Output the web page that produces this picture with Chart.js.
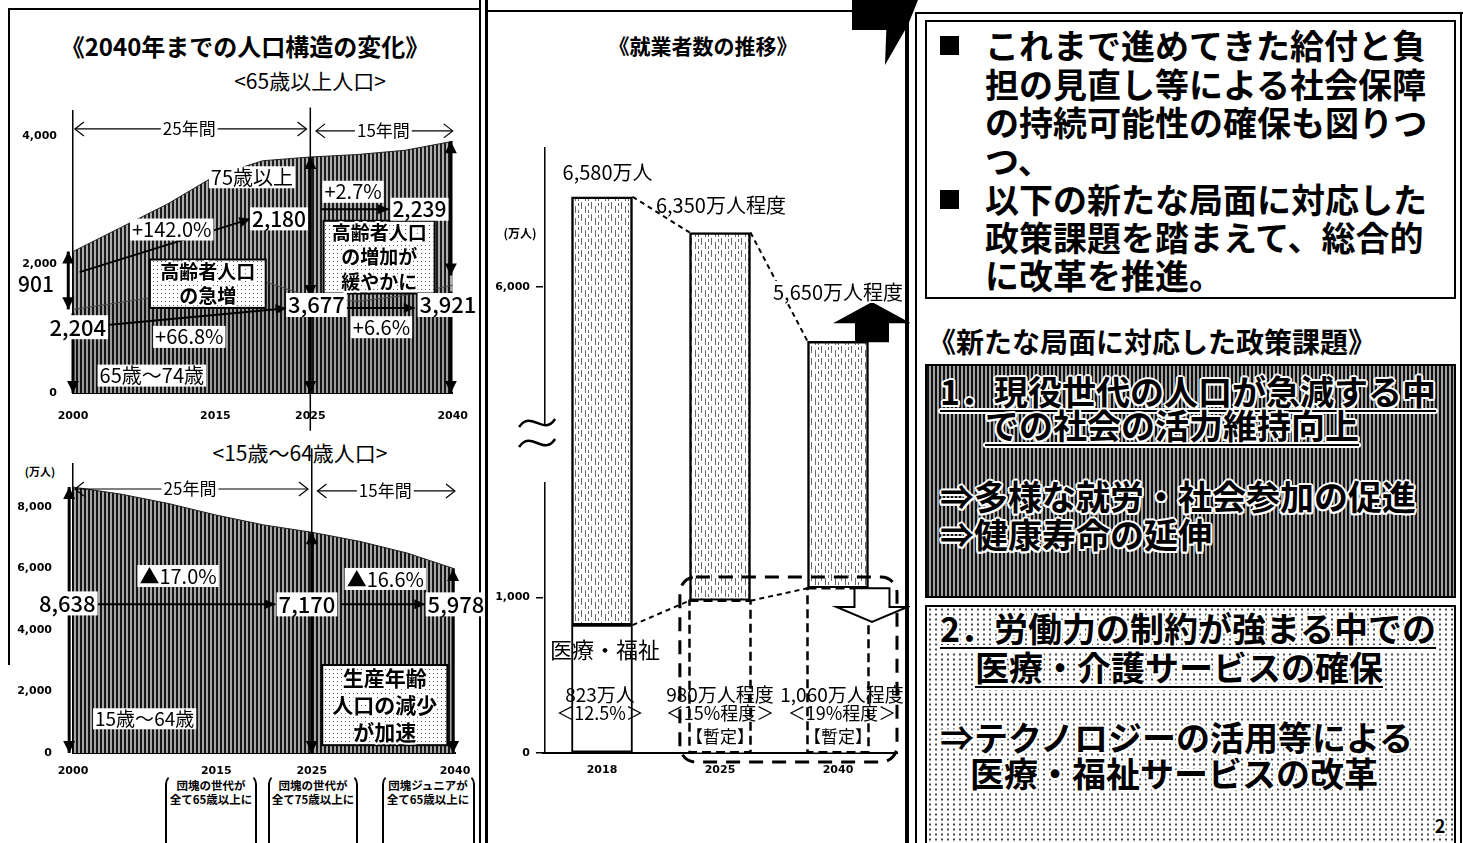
<!DOCTYPE html>
<html lang="ja">
<head>
<meta charset="UTF-8">
<title>2040年までの人口構造の変化・就業者数の推移</title>
<script src="https://cdn.jsdelivr.net/npm/chart.js@4.4.0/dist/chart.umd.min.js"></script>
<style>
    body { margin: 0; background: #fff; }
    #stage {
        position: relative; width: 1463px; height: 843px; overflow: hidden;
        font-family: "Noto Sans CJK JP", sans-serif; color: #000; background: #fff;
    }
    #stage canvas { position: absolute; }
    .ln { position: absolute; background: #000; }
    .c { position: absolute; transform: translate(-50%, -50%); white-space: nowrap; }
    .l { position: absolute; transform: translateY(-50%); white-space: nowrap; }
    .box { position: absolute; border: 2px solid #000; }
    .brk {
        position: absolute; border: 2px solid #000; border-top-color: transparent;
        border-bottom: none; border-radius: 10px 10px 0 0;
    }
    .note { font-size: 11.5px; font-weight: 700; line-height: 1; }
    .big { font-size: 34px; font-weight: 700; line-height: 1; }
    .halo {
        text-shadow: 2px 0 #fff, -2px 0 #fff, 0 2px #fff, 0 -2px #fff,
                     1.5px 1.5px #fff, -1.5px -1.5px #fff, 1.5px -1.5px #fff, -1.5px 1.5px #fff;
    }
    .ul { text-decoration: underline; text-decoration-thickness: 2px; text-underline-offset: 5px; }
    .dark { background: repeating-linear-gradient(90deg, #111 0 2px, #a0a0a0 2px 4px); }
    .light {
        background: radial-gradient(circle, #444 0.9px, transparent 1.3px) 0 0 / 6px 5px, #fff;
    }
</style>
</head>
<body>
<div id="stage">
    <!-- 枠線 -->
    <div class="ln" style="left:8px;top:8px;width:473px;height:2px"></div>
    <div class="ln" style="left:8px;top:8px;width:2px;height:657px"></div>
    <div class="ln" style="left:479px;top:0;width:2px;height:843px"></div>
    <div class="ln" style="left:485px;top:0;width:3px;height:843px"></div>
    <div class="ln" style="left:487px;top:10px;width:368px;height:2px"></div>
    <div class="ln" style="left:852px;top:0;width:66px;height:65px;clip-path:polygon(0 0,100% 0,85% 38%,50% 100%,52% 46%,0 46%)"></div>
    <div class="ln" style="left:905px;top:22px;width:4px;height:821px"></div>
    <div class="ln" style="left:915px;top:12px;width:2px;height:831px"></div>
    <div class="ln" style="left:915px;top:12px;width:548px;height:2px"></div>
    <div class="ln" style="left:1460px;top:12px;width:2px;height:831px"></div>

    <!-- 左パネルの見出し -->
    <div class="c" style="left:245px;top:45px;font-size:24px;font-weight:700">《2040年までの人口構造の変化》</div>
    <div class="c" style="left:310px;top:80px;font-size:21px">&lt;65歳以上人口&gt;</div>
    <div class="c" style="left:300px;top:452px;font-size:21px">&lt;15歳～64歳人口&gt;</div>
    <div class="c" style="left:40px;top:471px;font-size:11px;font-weight:700">(万人)</div>

    <!-- 団塊の世代の注記 -->
    <div class="brk" style="left:165px;top:774px;width:88px;height:80px"></div>
    <div class="brk" style="left:268px;top:774px;width:86px;height:80px"></div>
    <div class="brk" style="left:382px;top:774px;width:89px;height:80px"></div>
    <div class="c note" style="left:211px;top:786px">団塊の世代が</div>
    <div class="c note" style="left:211px;top:800px">全て65歳以上に</div>
    <div class="c note" style="left:313px;top:786px">団塊の世代が</div>
    <div class="c note" style="left:313px;top:800px">全て75歳以上に</div>
    <div class="c note" style="left:428px;top:786px">団塊ジュニアが</div>
    <div class="c note" style="left:428px;top:800px">全て65歳以上に</div>

    <!-- 中央パネルの見出し -->
    <div class="c" style="left:703px;top:45px;font-size:21px;font-weight:700">《就業者数の推移》</div>

    <canvas id="oldChart" width="485" height="345" style="left:0;top:88px"></canvas>
    <canvas id="workAgeChart" width="485" height="349" style="left:0;top:436px"></canvas>
    <canvas id="workerChart" width="420" height="660" style="left:490px;top:130px"></canvas>

    <!-- 右パネル -->
    <div class="box" style="left:925px;top:20px;width:527px;height:275px"></div>
    <div class="ln" style="left:940px;top:36px;width:19px;height:19px"></div>
    <div class="ln" style="left:940px;top:190px;width:19px;height:19px"></div>
    <div class="l big" style="left:985px;top:45px">これまで進めてきた給付と負</div>
    <div class="l big" style="left:985px;top:84px">担の見直し等による社会保障</div>
    <div class="l big" style="left:985px;top:122px">の持続可能性の確保も図りつ</div>
    <div class="l big" style="left:985px;top:160px">つ、</div>
    <div class="l big" style="left:985px;top:199px">以下の新たな局面に対応した</div>
    <div class="l big" style="left:985px;top:237px">政策課題を踏まえて、総合的</div>
    <div class="l big" style="left:985px;top:275px">に改革を推進。</div>

    <div class="l" style="left:928px;top:341px;font-size:28px;font-weight:600">《新たな局面に対応した政策課題》</div>

    <div class="box dark" style="left:925px;top:364px;width:527px;height:230px"></div>
    <div class="l big halo ul" style="left:940px;top:391px">1．現役世代の人口が急減する中</div>
    <div class="l big halo ul" style="left:985px;top:425px">での社会の活力維持向上</div>
    <div class="l big halo" style="left:940px;top:496px">⇒多様な就労・社会参加の促進</div>
    <div class="l big halo" style="left:940px;top:534px">⇒健康寿命の延伸</div>

    <div class="box light" style="left:925px;top:605px;width:527px;height:250px"></div>
    <div class="l big halo ul" style="left:940px;top:628px">2．労働力の制約が強まる中での</div>
    <div class="l big halo ul" style="left:975px;top:667px">医療・介護サービスの確保</div>
    <div class="l big halo" style="left:940px;top:737px">⇒テクノロジーの活用等による</div>
    <div class="l big halo" style="left:970px;top:773px">医療・福祉サービスの改革</div>
    <div class="c halo" style="left:1440px;top:825px;font-size:18px;font-weight:700">2</div>
</div>

<script>
    // 65歳以上人口（万人）
    const popYears = [2000, 2005, 2010, 2015, 2020, 2025, 2030, 2035, 2040];
    const pop65to74 = [1303, 1412, 1529, 1755, 1747, 1497, 1428, 1522, 1682];
    const pop75plus = [901, 1164, 1419, 1632, 1872, 2180, 2288, 2260, 2239];
    // 15歳～64歳人口（万人）
    const pop15to64 = [8638, 8409, 8103, 7728, 7406, 7170, 6875, 6494, 5978];
    const popYearTicks = [2000, 2015, 2025, 2040];
    const oldTicks = [0, 2000, 4000];
    const workAgeTicks = [0, 2000, 4000, 6000, 8000];

    // 就業者数（万人）
    const workYears = ['2018', '2025', '2040'];
    const workTotal = [6580, 6350, 5650];
    const workCare = [823, 980, 1060];
    const workTickValues = [0, 1000, 6000];
    const AXIS_CUT = 3000; // 縦軸の省略部分（2,000～5,000付近）

    const JP = '"Noto Sans CJK JP", sans-serif';
    const NUM = { family: 'DejaVu Sans', weight: 'bold', size: 11 };
    Chart.defaults.font.family = JP;
    Chart.defaults.color = '#000';

    const fmt = v => v.toLocaleString('en-US');
    const pct = (a, b) => Math.abs((b / a - 1) * 100).toFixed(1) + '%';
    const oldTotal = pop65to74.map((v, i) => v + pop75plus[i]);
    const i00 = popYears.indexOf(2000), i25 = popYears.indexOf(2025), i40 = popYears.indexOf(2040);

    function stripes(bg, fg, step, lw) {
        const c = document.createElement('canvas');
        c.width = step; c.height = 8;
        const g = c.getContext('2d');
        g.fillStyle = bg; g.fillRect(0, 0, step, 8);
        g.fillStyle = fg; g.fillRect(0, 0, lw, 8);
        return g.createPattern(c, 'repeat');
    }
    function dots() {
        const c = document.createElement('canvas');
        c.width = 4; c.height = 4;
        const g = c.getContext('2d');
        g.fillStyle = '#fff'; g.fillRect(0, 0, 4, 4);
        g.fillStyle = '#555'; g.fillRect(1, 1, 1, 1);
        return g.createPattern(c, 'repeat');
    }
    function speckle() {
        const c = document.createElement('canvas');
        c.width = 10; c.height = 12;
        const g = c.getContext('2d');
        g.fillStyle = '#fff'; g.fillRect(0, 0, 10, 12);
        g.fillStyle = '#6a6a6a';
        g.fillRect(1, 0, 1, 7); g.fillRect(5, 4, 1, 7); g.fillRect(8, 1, 1, 3); g.fillRect(8, 8, 1, 3);
        return g.createPattern(c, 'repeat');
    }
    const dotFill = dots();

    function arrowHead(ctx, x, y, ang, len, wid, open) {
        ctx.beginPath();
        ctx.moveTo(x - len * Math.cos(ang) + wid * Math.sin(ang), y - len * Math.sin(ang) - wid * Math.cos(ang));
        ctx.lineTo(x, y);
        ctx.lineTo(x - len * Math.cos(ang) - wid * Math.sin(ang), y - len * Math.sin(ang) + wid * Math.cos(ang));
        if (open) ctx.stroke(); else { ctx.closePath(); ctx.fill(); }
    }
    function drawArrow(ctx, x1, y1, x2, y2, a) {
        ctx.lineWidth = a.w || 1.5;
        ctx.strokeStyle = '#000'; ctx.fillStyle = '#000';
        ctx.beginPath(); ctx.moveTo(x1, y1); ctx.lineTo(x2, y2); ctx.stroke();
        const ang = Math.atan2(y2 - y1, x2 - x1);
        const len = a.len || 10, wid = a.wid || 5;
        if (a.head === 'end' || a.head === 'both') arrowHead(ctx, x2, y2, ang, len, wid, a.open);
        if (a.head === 'start' || a.head === 'both') arrowHead(ctx, x1, y1, ang + Math.PI, len, wid, a.open);
    }
    function blockArrow(ctx, x, yBase, yTip, shaftW, headW, headL, fill) {
        const dir = Math.sign(yTip - yBase), yNeck = yTip - dir * headL;
        ctx.beginPath();
        ctx.moveTo(x - shaftW / 2, yBase); ctx.lineTo(x - shaftW / 2, yNeck); ctx.lineTo(x - headW / 2, yNeck);
        ctx.lineTo(x, yTip);
        ctx.lineTo(x + headW / 2, yNeck); ctx.lineTo(x + shaftW / 2, yNeck); ctx.lineTo(x + shaftW / 2, yBase);
        ctx.closePath();
        ctx.fillStyle = fill; ctx.fill();
        ctx.lineWidth = 2; ctx.strokeStyle = '#000'; ctx.stroke();
    }
    function haloText(ctx, t, x, y) {
        ctx.lineWidth = 4; ctx.strokeStyle = '#fff'; ctx.lineJoin = 'round';
        ctx.strokeText(t, x, y);
        ctx.fillStyle = '#000'; ctx.fillText(t, x, y);
    }

    // 注記（矢印・ラベル・囲み）をデータ座標で描く
    const notesPlugin = {
        id: 'notes',
        afterDraw(chart, args, o) {
            const ctx = chart.ctx, sx = chart.scales.x, sy = chart.scales.y;
            const X = v => sx.getPixelForValue(v), Y = v => sy.getPixelForValue(v);
            ctx.save();
            (o.lines || []).forEach(l => {
                ctx.lineWidth = l.w || 1.5; ctx.strokeStyle = '#000';
                ctx.beginPath(); ctx.moveTo(X(l.x1), Y(l.y1)); ctx.lineTo(X(l.x2), Y(l.y2)); ctx.stroke();
            });
            (o.rrects || []).forEach(r => {
                ctx.lineWidth = 3; ctx.strokeStyle = '#000'; ctx.setLineDash([14, 9]);
                ctx.beginPath();
                ctx.roundRect(X(r.x1), Y(r.y1), X(r.x2) - X(r.x1), Y(r.y2) - Y(r.y1), 16);
                ctx.stroke();
                ctx.setLineDash([]);
            });
            (o.blocks || []).forEach(b => blockArrow(ctx, X(b.x), Y(b.y1), Y(b.y2), b.shaft, b.head, b.len, b.fill));
            (o.tildes || []).forEach(t => {
                const x = X(t.x), y = Y(t.y);
                ctx.lineWidth = 2.5; ctx.strokeStyle = '#000';
                ctx.beginPath(); ctx.moveTo(x - 18, y + 4);
                ctx.bezierCurveTo(x - 6, y - 14, x + 6, y + 14, x + 18, y - 4);
                ctx.stroke();
            });
            (o.arrows || []).forEach(a => drawArrow(ctx, X(a.x1), Y(a.y1), X(a.x2), Y(a.y2), a));
            (o.boxes || []).forEach(b => {
                const x1 = X(b.x1), y1 = Y(b.y1), x2 = X(b.x2), y2 = Y(b.y2);
                ctx.fillStyle = dotFill; ctx.fillRect(x1, y1, x2 - x1, y2 - y1);
                ctx.lineWidth = 2; ctx.strokeStyle = '#000'; ctx.strokeRect(x1, y1, x2 - x1, y2 - y1);
                ctx.font = `bold ${b.size}px ${JP}`;
                ctx.textAlign = 'center'; ctx.textBaseline = 'middle';
                const lh = (y2 - y1) / b.lines.length;
                b.lines.forEach((t, i) => haloText(ctx, t, (x1 + x2) / 2, y1 + lh * (i + 0.5)));
            });
            (o.texts || []).forEach(t => {
                ctx.font = `${t.weight || 400} ${t.size}px ${JP}`;
                ctx.textAlign = 'center'; ctx.textBaseline = 'middle';
                const x = X(t.x), y = Y(t.y);
                if (t.bg) {
                    const w = ctx.measureText(t.t).width;
                    ctx.fillStyle = t.bg;
                    ctx.fillRect(x - w / 2 - 2, y - t.size / 2 - 1, w + 4, t.size + 2);
                }
                ctx.fillStyle = '#000';
                ctx.fillText(t.t, x, y);
            });
            ctx.restore();
        }
    };
    Chart.register(notesPlugin);

    function yearAxis(height, pad) {
        return {
            type: 'linear', min: 2000, max: 2040,
            afterBuildTicks: s => { s.ticks = popYearTicks.map(v => ({ value: v })); },
            afterFit: s => { s.height = height; },
            ticks: { callback: v => String(v), padding: pad, font: NUM, maxRotation: 0, autoSkip: false },
            grid: { display: false, drawTicks: false },
            border: { display: true, color: '#000', width: 2 }
        };
    }
    function valueAxis(max, ticks, pad) {
        return {
            stacked: true, min: 0, max: max,
            afterBuildTicks: s => { s.ticks = ticks.map(v => ({ value: v })); },
            afterFit: s => { s.width = 73; },
            ticks: { callback: v => fmt(v), padding: pad, font: NUM },
            grid: { display: false, drawTicks: false },
            border: { display: true, color: '#000', width: 1.5 }
        };
    }
    const pts = arr => arr.map((v, i) => ({ x: popYears[i], y: v }));
    const span = { head: 'both', open: true, w: 1.2, len: 9, wid: 7 };
    const bold = { head: 'both', w: 3, len: 12, wid: 6 };

    // <65歳以上人口>
    new Chart(document.getElementById('oldChart'), {
        type: 'line',
        data: {
            datasets: [
                { label: '65歳～74歳', data: pts(pop65to74), fill: 'origin', backgroundColor: stripes('#9c9c9c', '#141414', 4, 2),
                  borderColor: '#444', borderWidth: 1, pointRadius: 0, tension: 0 },
                { label: '75歳以上', data: pts(pop75plus), fill: '-1', backgroundColor: stripes('#acacac', '#1c1c1c', 4, 2),
                  borderColor: '#222', borderWidth: 1, pointRadius: 0, tension: 0 }
            ]
        },
        options: {
            responsive: false, animation: false,
            layout: { padding: { top: 13, right: 30, left: 0, bottom: 0 } },
            plugins: {
                legend: { display: false }, tooltip: { enabled: false },
                notes: {
                    lines: [{ x1: 2025, y1: 4450, x2: 2025, y2: -590, w: 1.5 }],
                    arrows: [
                        { x1: 2000.2, y1: 4114, x2: 2024.6, y2: 4114, ...span },
                        { x1: 2025.6, y1: 4084, x2: 2040, y2: 4084, ...span },
                        { x1: 2000.7, y1: 1884, x2: 2018.7, y2: 2713, head: 'end', w: 2, len: 11, wid: 5 },
                        { x1: 2003.3, y1: 1055, x2: 2022.5, y2: 1320, head: 'end', w: 2, len: 11, wid: 5 },
                        { x1: 2026.1, y1: 2863, x2: 2033.3, y2: 2863, head: 'end', w: 2, len: 11, wid: 5 },
                        { x1: 2028.8, y1: 1326, x2: 2036.0, y2: 1326, head: 'end', w: 2, len: 11, wid: 5 },
                        { x1: 1999.5, y1: pop65to74[i00], x2: 1999.5, y2: oldTotal[i00], ...bold },
                        { x1: 2000, y1: pop65to74[i00] - 60, x2: 2000, y2: 0, ...bold, head: 'end' },
                        { x1: 2025, y1: pop65to74[i25], x2: 2025, y2: oldTotal[i25], ...bold },
                        { x1: 2025, y1: pop65to74[i25] - 300, x2: 2025, y2: 0, ...bold, head: 'end' },
                        { x1: 2039.8, y1: pop65to74[i40] + 150, x2: 2039.8, y2: oldTotal[i40], ...bold },
                        { x1: 2039.8, y1: pop65to74[i40] - 100, x2: 2039.8, y2: 0, ...bold, head: 'end' }
                    ],
                    boxes: [
                        { x1: 2008.1, y1: 2080, x2: 2020.3, y2: 1326, lines: ['高齢者人口', 'の急増'], size: 19 },
                        { x1: 2026.4, y1: 2682, x2: 2038.1, y2: 1552, lines: ['高齢者人口', 'の増加が', '緩やかに'], size: 19 }
                    ],
                    texts: [
                        { x: 2012.25, y: 4114, t: '25年間', size: 17, bg: '#fff' },
                        { x: 2032.7, y: 4084, t: '15年間', size: 17, bg: '#fff' },
                        { x: 2018.85, y: 3361, t: '75歳以上', size: 20, bg: '#fff' },
                        { x: 2010.4, y: 2547, t: '+' + pct(pop75plus[i00], pop75plus[i25]), size: 20, bg: '#fff' },
                        { x: 2021.7, y: 2713, t: fmt(pop75plus[i25]), size: 21, weight: 500, bg: '#fff' },
                        { x: 1996.1, y: 1703, t: fmt(pop75plus[i00]), size: 21, weight: 500, bg: '#fff' },
                        { x: 2000.5, y: 1025, t: fmt(oldTotal[i00]), size: 22, weight: 500, bg: '#fff' },
                        { x: 2025.65, y: 1371, t: fmt(oldTotal[i25]), size: 22, weight: 500, bg: '#fff' },
                        { x: 2012.25, y: 874, t: '+' + pct(oldTotal[i00], oldTotal[i25]), size: 20, bg: '#fff' },
                        { x: 2008.3, y: 271, t: '65歳～74歳', size: 20, bg: '#fff' },
                        { x: 2029.5, y: 3135, t: '+' + pct(pop75plus[i25], pop75plus[i40]), size: 20, bg: '#fff' },
                        { x: 2036.5, y: 2863, t: fmt(pop75plus[i40]), size: 21, weight: 500, bg: '#fff' },
                        { x: 2039.5, y: 1371, t: fmt(oldTotal[i40]), size: 22, weight: 500, bg: '#fff' },
                        { x: 2032.5, y: 1025, t: '+' + pct(oldTotal[i25], oldTotal[i40]), size: 20, bg: '#fff' }
                    ]
                }
            },
            scales: { x: yearAxis(40, 17), y: valueAxis(4400, oldTicks, 16) }
        }
    });

    // <15歳～64歳人口>
    new Chart(document.getElementById('workAgeChart'), {
        type: 'line',
        data: {
            datasets: [
                { label: '15歳～64歳', data: pts(pop15to64), fill: 'origin', backgroundColor: stripes('#a6a6a6', '#161616', 4, 2),
                  borderColor: '#222', borderWidth: 1, pointRadius: 0, tension: 0 }
            ]
        },
        options: {
            responsive: false, animation: false,
            layout: { padding: { top: 21, right: 30, left: 0, bottom: 0 } },
            plugins: {
                legend: { display: false }, tooltip: { enabled: false },
                notes: {
                    lines: [{ x1: 2025, y1: 9900, x2: 2025, y2: 0, w: 1.5 }],
                    arrows: [
                        { x1: 2000.2, y1: 8575, x2: 2024.6, y2: 8575, ...span },
                        { x1: 2025.6, y1: 8512, x2: 2040, y2: 8512, ...span },
                        { x1: 1999.6, y1: 0, x2: 1999.6, y2: pop15to64[i00], ...bold },
                        { x1: 2025, y1: 0, x2: 2025, y2: pop15to64[i25], ...bold },
                        { x1: 2039.8, y1: 0, x2: 2039.8, y2: pop15to64[i40], ...bold },
                        { x1: 2002.5, y1: 4828, x2: 2021.2, y2: 4828, head: 'end', w: 2, len: 11, wid: 5 },
                        { x1: 2028.0, y1: 4828, x2: 2036.9, y2: 4828, head: 'end', w: 2, len: 11, wid: 5 }
                    ],
                    boxes: [
                        { x1: 2026.1, y1: 2858, x2: 2039.2, y2: 254, lines: ['生産年齢', '人口の減少', 'が加速'], size: 21 }
                    ],
                    texts: [
                        { x: 2012.25, y: 8575, t: '25年間', size: 17, bg: '#fff' },
                        { x: 2032.7, y: 8512, t: '15年間', size: 17, bg: '#fff' },
                        { x: 2011, y: 5749, t: '▲' + pct(pop15to64[i00], pop15to64[i25]), size: 20, bg: '#fff' },
                        { x: 2032.7, y: 5653, t: '▲' + pct(pop15to64[i25], pop15to64[i40]), size: 20, bg: '#fff' },
                        { x: 1999.4, y: 4859, t: fmt(pop15to64[i00]), size: 22, weight: 500, bg: '#fff' },
                        { x: 2024.5, y: 4828, t: fmt(pop15to64[i25]), size: 22, weight: 500, bg: '#fff' },
                        { x: 2040.1, y: 4828, t: fmt(pop15to64[i40]), size: 22, weight: 500, bg: '#fff' },
                        { x: 2007.5, y: 1112, t: '15歳～64歳', size: 19, bg: '#fff' }
                    ]
                }
            },
            scales: { x: yearAxis(32, 12), y: valueAxis(9400, workAgeTicks, 21) }
        }
    });

    // 就業者数の推移：棒の上端をつなぐ破線・暫定値の破線枠
    const workerExtras = {
        id: 'workerExtras',
        afterDatasetsDraw(chart) {
            const ctx = chart.ctx;
            const care = chart.getDatasetMeta(0).data, top = chart.getDatasetMeta(1).data;
            ctx.save();
            ctx.strokeStyle = '#000';
            ctx.lineWidth = 2.5; ctx.setLineDash([9, 5]);
            care.forEach((el, i) => {
                if (i > 0) ctx.strokeRect(el.x - el.width / 2, el.y, el.width, el.base - el.y);
            });
            ctx.lineWidth = 2; ctx.setLineDash([5, 4]);
            [top, care].forEach(els => {
                for (let i = 0; i < els.length - 1; i++) {
                    const a = els[i], b = els[i + 1];
                    ctx.beginPath();
                    ctx.moveTo(a.x + a.width / 2, a.y);
                    ctx.lineTo(b.x - b.width / 2, b.y);
                    ctx.stroke();
                }
            });
            ctx.restore();
        }
    };
    const axisPos = v => (v > 2000 ? v - AXIS_CUT : v);
    const i40w = workYears.indexOf('2040');

    new Chart(document.getElementById('workerChart'), {
        type: 'bar',
        data: {
            labels: workYears,
            datasets: [
                { label: '医療・福祉', data: workCare, backgroundColor: '#fff', borderColor: '#000',
                  borderWidth: workCare.map((v, i) => (i === 0 ? 2 : 0)), borderSkipped: false, barThickness: 61 },
                { label: 'その他', data: workTotal.map((t, i) => axisPos(t) - workCare[i]), backgroundColor: speckle(),
                  borderColor: '#000', borderWidth: 2.5, borderSkipped: false, barThickness: 61 }
            ]
        },
        plugins: [workerExtras],
        options: {
            responsive: false, animation: false,
            layout: { padding: { top: 17, right: 13, left: 0, bottom: 0 } },
            plugins: {
                legend: { display: false }, tooltip: { enabled: false },
                notes: {
                    lines: [
                        { x1: -0.485, y1: 3900, x2: -0.485, y2: 2110, w: 1.5 },
                        { x1: -0.485, y1: 1744, x2: -0.485, y2: 0, w: 1.5 }
                    ],
                    tildes: [{ x: -0.55, y: 2124 }, { x: -0.55, y: 1995 }],
                    rrects: [{ x1: 0.66, y1: 1133, x2: 2.5, y2: -58 }],
                    blocks: [
                        { x: 2.288, y1: axisPos(workTotal[i40w]), y2: 2895, shaft: 32, head: 70, len: 19, fill: '#000' },
                        { x: 2.288, y1: workCare[i40w], y2: 843, shaft: 35, head: 71, len: 15, fill: '#fff' }
                    ],
                    texts: [
                        { x: -0.695, y: 3346, t: '(万人)', size: 12, weight: 700 },
                        { x: 0.047, y: 3739, t: fmt(workTotal[0]) + '万人', size: 20 },
                        { x: 1.008, y: 3526, t: fmt(workTotal[1]) + '万人程度', size: 20 },
                        { x: 2.0, y: 2967, t: fmt(workTotal[2]) + '万人程度', size: 20, bg: '#fff' },
                        { x: 0.025, y: 663, t: '医療・福祉', size: 22 },
                        { x: -0.017, y: 373, t: fmt(workCare[0]) + '万人', size: 19 },
                        { x: -0.017, y: 257, t: '＜12.5%＞', size: 18 },
                        { x: 1.0, y: 373, t: fmt(workCare[1]) + '万人程度', size: 19 },
                        { x: 1.0, y: 257, t: '＜15%程度＞', size: 18 },
                        { x: 1.0, y: 109, t: '【暫定】', size: 17 },
                        { x: 2.034, y: 373, t: fmt(workCare[2]) + '万人程度', size: 19 },
                        { x: 2.034, y: 257, t: '＜19%程度＞', size: 18 },
                        { x: 2.0, y: 109, t: '【暫定】', size: 17 }
                    ]
                }
            },
            scales: {
                x: {
                    stacked: true,
                    afterFit: s => { s.height = 37; },
                    ticks: { padding: 11, font: NUM },
                    grid: { display: false, drawTicks: false },
                    border: { display: true, color: '#000', width: 2 }
                },
                y: {
                    stacked: true, min: 0, max: 3900,
                    afterBuildTicks: s => { s.ticks = workTickValues.map(v => ({ value: axisPos(v) })); },
                    afterFit: s => { s.width = 53; },
                    ticks: { callback: v => fmt(v >= AXIS_CUT ? v + AXIS_CUT : v), padding: 6, font: NUM },
                    grid: { display: true, drawOnChartArea: false, drawTicks: true, tickLength: 7, color: '#000', lineWidth: 1.5 },
                    border: { display: false }
                }
            }
        }
    });
</script>
</body>
</html>
